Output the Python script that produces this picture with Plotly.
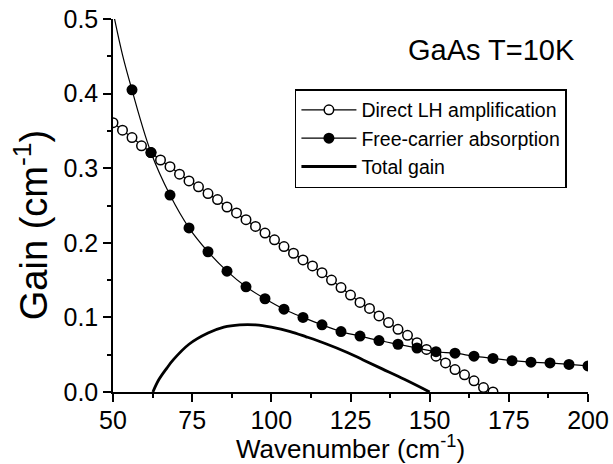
import plotly.graph_objects as go

# ---- data ----
direct_x = [50, 53, 56, 59, 62, 65, 68, 71, 74, 77, 80, 83, 86, 89, 92, 95, 98, 101, 104, 107,
            110, 113, 116, 119, 122, 125, 128, 131, 134, 137, 140, 143, 146, 149, 152, 155, 158,
            161, 164, 167, 170]
direct_y = [0.361, 0.351, 0.341, 0.330, 0.321, 0.311, 0.302, 0.292, 0.283, 0.275, 0.266, 0.258,
            0.248, 0.240, 0.231, 0.222, 0.213, 0.204, 0.195, 0.186, 0.177, 0.169, 0.160, 0.150,
            0.140, 0.130, 0.120, 0.112, 0.102, 0.093, 0.084, 0.076, 0.066, 0.057, 0.048, 0.039,
            0.030, 0.023, 0.015, 0.006, 0.000]

fca_x = [56, 62, 68, 74, 80, 86, 92, 98, 104, 110, 116, 122, 128, 134, 140, 146, 152, 158,
         164, 170, 176, 182, 188, 194, 200]
fca_y = [0.405, 0.321, 0.264, 0.220, 0.188, 0.162, 0.141, 0.125, 0.111, 0.100, 0.090, 0.081,
         0.075, 0.069, 0.064, 0.059, 0.054, 0.052, 0.048, 0.045, 0.042, 0.040, 0.039, 0.037,
         0.035]
# continuation of the free-carrier curve above the top of the frame
fca_ext_x = [50, 53, 56]
fca_ext_y = [0.51, 0.452, 0.405]

total_x = [62.6, 64.4, 67, 69, 74, 80, 85, 90, 95, 100, 106, 111, 117, 124, 129, 135, 142, 150]
total_y = [0.000, 0.016, 0.032, 0.043, 0.064, 0.079, 0.087, 0.090, 0.090, 0.087, 0.081, 0.074,
           0.065, 0.053, 0.043, 0.031, 0.017, 0.000]

x_ticks = [50, 75, 100, 125, 150, 175, 200]
y_ticks = [0.0, 0.1, 0.2, 0.3, 0.4, 0.5]

FONT = "Arial"

fig = go.Figure()
fig.add_trace(go.Scatter(x=fca_ext_x, y=fca_ext_y, mode="lines", line=dict(color="black", width=1.2, shape="spline"),
                         showlegend=False, hoverinfo="skip"))
fig.add_trace(go.Scatter(x=direct_x, y=direct_y, mode="lines+markers", name="Direct LH amplification",
                         line=dict(color="black", width=1.2),
                         marker=dict(symbol="circle", size=9.5, color="white", line=dict(color="black", width=1.5))))
fig.add_trace(go.Scatter(x=fca_x, y=fca_y, mode="lines+markers", name="Free-carrier absorption",
                         line=dict(color="black", width=1.2, shape="spline"),
                         marker=dict(symbol="circle", size=11, color="black")))
fig.add_trace(go.Scatter(x=total_x, y=total_y, mode="lines", name="Total gain",
                         line=dict(color="black", width=2.8, shape="spline")))

axis_common = dict(showline=True, linecolor="black", linewidth=1.5, showgrid=False, zeroline=False,
                   tickcolor="black", tickwidth=1.5, ticklen=8, automargin=False,
                   tickfont=dict(family=FONT, size=25, color="black"))

fig.update_layout(
    width=613, height=464,
    margin=dict(l=113, r=25, t=19, b=72, autoexpand=False),
    paper_bgcolor="white", plot_bgcolor="white",
    font=dict(family=FONT, color="black"),
    xaxis=dict(range=[50, 200], tickvals=x_ticks, ticks="outside", ticklabelstandoff=-3,
               minor=dict(dtick=12.5, ticks="outside", ticklen=4, tickcolor="black", tickwidth=1.5),
               **axis_common),
    yaxis=dict(range=[0, 0.5], tickvals=y_ticks, tickformat=".1f", ticks="outside",
               minor=dict(dtick=0.05, ticks="outside", ticklen=4, tickcolor="black", tickwidth=1.5),
               **axis_common),
    xaxis2=dict(range=[50, 200], overlaying="x", side="top", tickvals=x_ticks, ticks="inside",
                showticklabels=False, showline=True, linecolor="black", linewidth=1.5, showgrid=False,
                zeroline=False, tickcolor="black", tickwidth=1.5, ticklen=7, automargin=False,
                minor=dict(dtick=12.5, ticks="inside", ticklen=4, tickcolor="black", tickwidth=1.5)),
    yaxis2=dict(range=[0, 0.5], overlaying="y", side="right", tickvals=y_ticks, ticks="inside",
                showticklabels=False, showline=True, linecolor="black", linewidth=1.5, showgrid=False,
                zeroline=False, tickcolor="black", tickwidth=1.5, ticklen=7, automargin=False,
                minor=dict(dtick=0.05, ticks="inside", ticklen=4, tickcolor="black", tickwidth=1.5)),
    legend=dict(x=0.383, y=0.812, xanchor="left", yanchor="top", bgcolor="white",
                bordercolor="black", borderwidth=1.5, itemwidth=55,
                font=dict(family=FONT, size=19.5, color="black"), tracegroupgap=0),
    showlegend=True,
)
fig.add_annotation(text="GaAs T=10K", xref="paper", yref="paper", x=0.9775, y=0.917,
                   xanchor="right", yanchor="middle", showarrow=False,
                   font=dict(family=FONT, size=29, color="black"))
fig.add_annotation(text="Wavenumber (cm<sup>-1</sup>)", xref="paper", yref="paper", x=0.5, y=-0.149,
                   xanchor="center", yanchor="middle", showarrow=False,
                   font=dict(family=FONT, size=26, color="black"))
fig.add_annotation(text="Gain (cm<sup>-1</sup>)", xref="paper", yref="paper", x=-0.172, y=0.448,
                   xanchor="center", yanchor="middle", textangle=-90, showarrow=False,
                   font=dict(family=FONT, size=38, color="black"))

fig.write_html("out.html")
